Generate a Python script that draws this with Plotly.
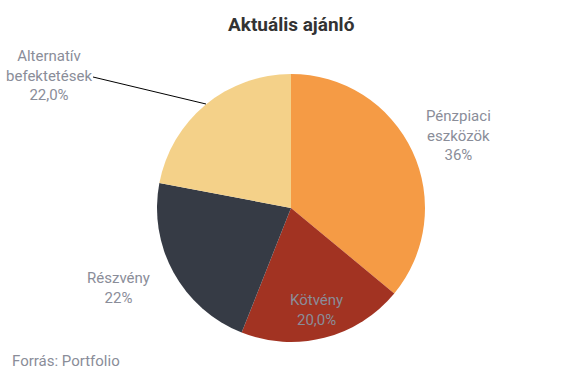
import plotly.graph_objects as go

labels = ["Pénzpiaci eszközök", "Kötvény", "Részvény", "Alternatív befektetések"]
values = [36, 20, 22, 22]
label_texts = ["Pénzpiaci<br>eszközök<br>36%", "Kötvény<br>20,0%", "Részvény<br>22%", "Alternatív<br>befektetések<br>22,0%"]
colors = ["#F59B45", "#A23322", "#363B45", "#F4D189"]

W, H = 583, 379
def px(x, y):
    return x / W, 1 - y / H

cx, cy, r = 291, 208, 134
x0, y0 = px(cx - r, cy - r)
x1, y1 = px(cx + r, cy + r)

fig = go.Figure(go.Pie(
    labels=labels, values=values, sort=False, direction="clockwise", rotation=0,
    marker=dict(colors=colors, line=dict(width=0)),
    textinfo="none", hoverinfo="label+percent", showlegend=False,
    domain=dict(x=[x0, x1], y=[y1, y0]),
))

gray = "#8A8D99"
label_pos = [(458, 135), (316, 310), (118, 288), (49, 75)]
annotations = []
for t, (lx, ly) in zip(label_texts, label_pos):
    ax, ay = px(lx, ly)
    annotations.append(dict(x=ax, y=ay, xref="paper", yref="paper", text=t, showarrow=False,
                            font=dict(family="Roboto", size=15, color=gray), align="center",
                            xanchor="center", yanchor="middle"))
tx, ty = px(291, 24)
annotations.append(dict(x=tx, y=ty, xref="paper", yref="paper", text="<b>Aktuális ajánló</b>",
                        showarrow=False, font=dict(family="Roboto", size=19, color="#333333"),
                        xanchor="center", yanchor="middle"))
sx, sy = px(10, 361)
annotations.append(dict(x=sx, y=sy, xref="paper", yref="paper", text="Forrás: Portfolio",
                        showarrow=False, font=dict(family="Roboto", size=15, color=gray),
                        xanchor="left", yanchor="middle"))

lx0, ly0 = px(93, 77)
lx1, ly1 = px(206, 104)
fig.update_layout(
    width=W, height=H, margin=dict(l=0, r=0, t=0, b=0),
    paper_bgcolor="white", plot_bgcolor="white",
    annotations=annotations,
    shapes=[dict(type="line", xref="paper", yref="paper", x0=lx0, y0=ly0, x1=lx1, y1=ly1,
                 line=dict(color="black", width=1))],
)
fig.write_html("out.html", config={"displayModeBar": False},
               post_script="document.body.style.margin='0';document.body.style.overflow='hidden';")
